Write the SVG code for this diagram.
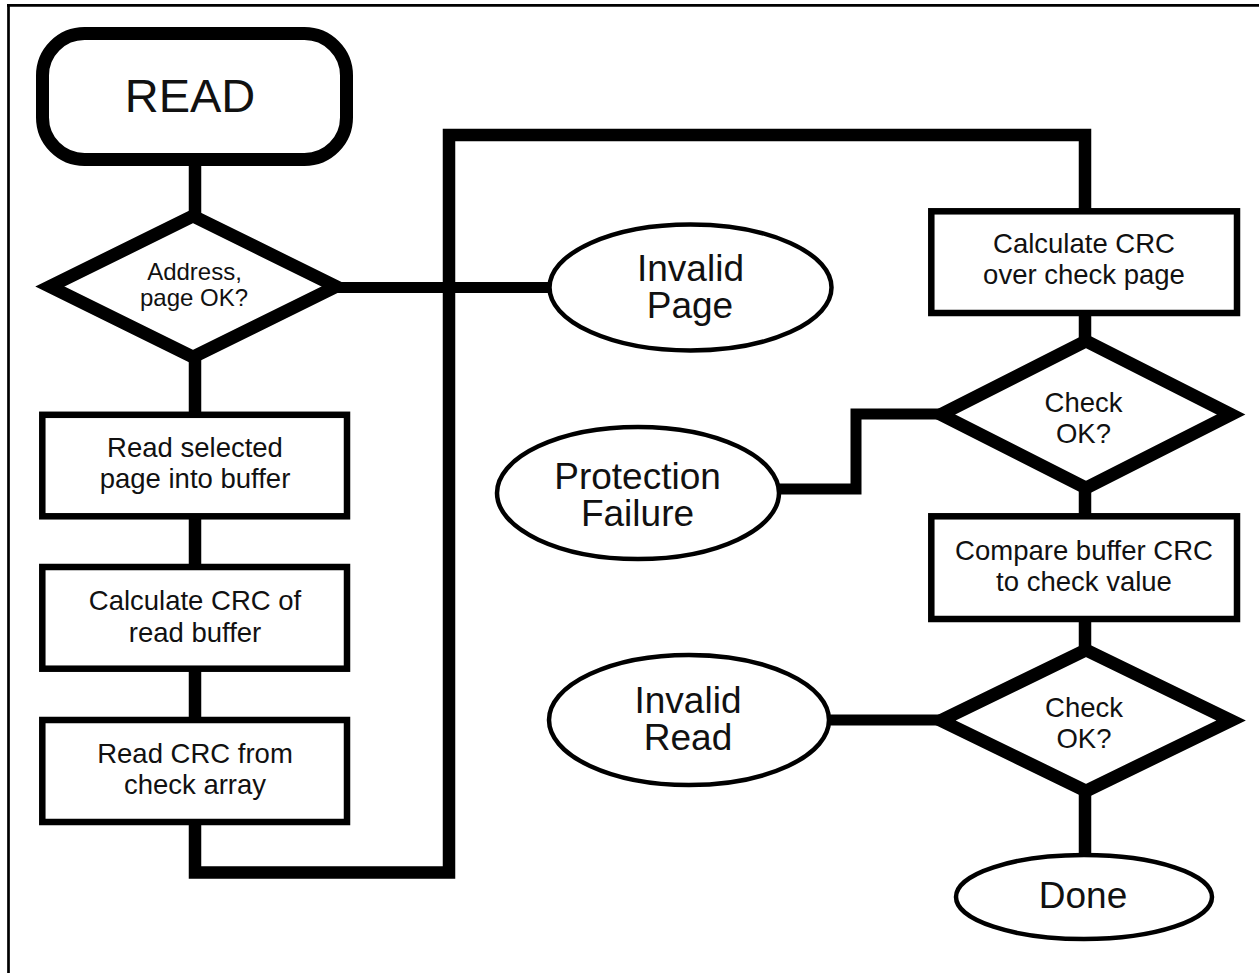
<svg xmlns="http://www.w3.org/2000/svg" width="1259" height="973" viewBox="0 0 1259 973">
<style>
.frame{fill:none;stroke:#000;stroke-width:2.7}
.ln{fill:none;stroke:#000;stroke-width:12.5;stroke-linejoin:miter;stroke-linecap:butt}
.ln2{fill:none;stroke:#000;stroke-width:11;stroke-linejoin:miter;stroke-linecap:butt}
.term{fill:#fff;stroke:#000;stroke-width:13}
.box{fill:#fff;stroke:#000;stroke-width:6.5}
.dia{fill:#fff;stroke:#000;stroke-width:13;stroke-linejoin:miter;stroke-miterlimit:10}
.ell{fill:#fff;stroke:#000;stroke-width:4.5}
.t{font-family:"Liberation Sans",Arial,Helvetica,sans-serif;fill:#111;text-anchor:middle}
.s24{font-size:24px}
.s27{font-size:27.5px}
.s38{font-size:37px}
.s47{font-size:47px}
</style>
<rect x="0" y="0" width="1259" height="973" fill="#fff"/>
<g id="frame">
<path class="frame" d="M7 5.3 H1259 M8.5 4 V973"/>
</g>
<g id="connectors">
<path class="ln" d="M195 158 V218"/>
<path class="ln" d="M195 355 V416"/>
<path class="ln" d="M195 515 V568"/>
<path class="ln" d="M195 668 V721"/>
<path class="ln" d="M195 821 V872.5 H449 V135 H1085 V212"/>
<path class="ln2" d="M334 287.5 H553"/>
<path class="ln" d="M1085 312 V343"/>
<path class="ln" d="M1085 487 V517"/>
<path class="ln" d="M1085 618 V651"/>
<path class="ln" d="M1085 789 V855"/>
<path class="ln2" d="M943 414 H856 V489 H777"/>
<path class="ln2" d="M943 720 H827"/>
</g>
<g id="node-read">
<rect class="term" x="42.5" y="33.5" width="304" height="126" rx="42" ry="42"/>
<text class="t s47" x="190" y="112">READ</text>
</g>
<g id="node-address-ok">
<path class="dia" d="M193 216 L336 286.5 L193 357 L50 286.5 Z"/>
<text class="t s24" x="194.5" y="280">Address,<tspan x="194" dy="26">page OK?</tspan></text>
</g>
<g id="node-read-page">
<rect class="box" x="42.3" y="414.8" width="304.7" height="101.5"/>
<text class="t s27" x="195" y="457">Read selected<tspan x="195" dy="31">page into buffer</tspan></text>
</g>
<g id="node-calc-crc-buffer">
<rect class="box" x="42.3" y="567" width="304.7" height="101.7"/>
<text class="t s27" x="195" y="610">Calculate CRC of<tspan x="195" dy="32">read buffer</tspan></text>
</g>
<g id="node-read-crc">
<rect class="box" x="42.3" y="720" width="304.7" height="102"/>
<text class="t s27" x="195" y="763">Read CRC from<tspan x="195" dy="31">check array</tspan></text>
</g>
<g id="node-invalid-page">
<ellipse class="ell" cx="690.5" cy="287.5" rx="141" ry="63"/>
<text class="t s38" x="690.5" y="281">Invalid<tspan x="690" dy="37">Page</tspan></text>
</g>
<g id="node-calc-crc-check">
<rect class="box" x="931.3" y="211.3" width="305.7" height="101.7"/>
<text class="t s27" x="1084" y="253">Calculate CRC<tspan x="1084" dy="31">over check page</tspan></text>
</g>
<g id="node-check-ok-1">
<path class="dia" d="M1086 341 L1231 414.5 L1086 488 L941 414.5 Z"/>
<text class="t s27" x="1083.5" y="412">Check<tspan x="1083.5" dy="31">OK?</tspan></text>
</g>
<g id="node-protection-failure">
<ellipse class="ell" cx="638" cy="493" rx="141" ry="66"/>
<text class="t s38" x="637.5" y="489">Protection<tspan x="637.5" dy="37">Failure</tspan></text>
</g>
<g id="node-compare">
<rect class="box" x="931.3" y="516.3" width="305.7" height="102.7"/>
<text class="t s27" x="1084" y="560">Compare buffer CRC<tspan x="1084" dy="31">to check value</tspan></text>
</g>
<g id="node-check-ok-2">
<path class="dia" d="M1086 650 L1231 720.5 L1086 791 L941 720.5 Z"/>
<text class="t s27" x="1084" y="717">Check<tspan x="1084" dy="31">OK?</tspan></text>
</g>
<g id="node-invalid-read">
<ellipse class="ell" cx="689" cy="720" rx="140" ry="65"/>
<text class="t s38" x="688" y="713">Invalid<tspan x="688" dy="37">Read</tspan></text>
</g>
<g id="node-done">
<ellipse class="ell" cx="1084" cy="897" rx="128" ry="42"/>
<text class="t s38" x="1083" y="908">Done</text>
</g>
</svg>
